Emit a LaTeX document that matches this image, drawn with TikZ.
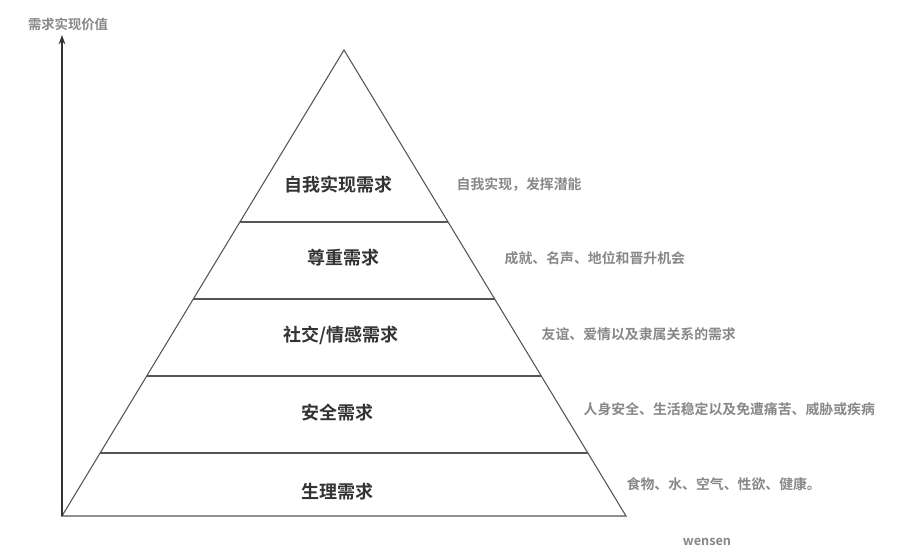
\documentclass[tikz,border=0pt]{standalone}
\usepackage{fontspec}
\setmainfont{Noto Sans CJK SC Bold}
\usetikzlibrary{arrows.meta}
\definecolor{tl}{HTML}{555555}
\definecolor{tx}{HTML}{333333}
\definecolor{gl}{HTML}{888888}
\tikzset{
 lvl/.style={font=\fontsize{13.5}{16}\selectfont, text=tx},
 note/.style={font=\fontsize{10.4}{12}\selectfont, text=gl, anchor=west},
 edge/.style={draw=tl, line width=0.8pt}
}
\begin{document}
\begin{tikzpicture}[x=0.75pt,y=-0.75pt]
\useasboundingbox (0,0) rectangle (899,556);
\coordinate (apex) at (344,50);
\coordinate (bl) at (62,516);
\coordinate (br) at (626,516);
\coordinate (top) at (62,35);
\draw[edge] (bl) -- (apex) -- (br) -- cycle;
\draw[draw=black!80, line width=1pt, -{Stealth[length=7pt,width=5pt]}] (bl) -- (top);
\foreach \y in {222,299,376,453}{
 \pgfmathsetmacro{\d}{(\y-50)*0.60515}
 \draw[edge] ({344-\d},\y) -- ({344+\d},\y);
}
\node[font=\fontsize{10}{11}\selectfont, text=gl] (ax) at (68,24) {需求实现价值};
\node[lvl] (l1) at (338,185) {自我实现需求};
\node[lvl] (l2) at (343,258) {尊重需求};
\node[lvl] (l3) at (341,335) {社交/情感需求};
\node[lvl] (l4) at (337,413) {安全需求};
\node[lvl] (l5) at (337,492) {生理需求};
\node[note] (n1) at (452,184) {自我实现，发挥潜能};
\node[note] (n2) at (500,258) {成就、名声、地位和晋升机会};
\node[note] (n3) at (537,334) {友谊、爱情以及隶属关系的需求};
\node[note] (n4) at (579,409) {人身安全、生活稳定以及免遭痛苦、威胁或疾病};
\node[note] (n5) at (622,484) {食物、水、空气、性欲、健康。};
\node[font=\fontsize{9.5}{10}\selectfont, text=gl] (w) at (707,542) {wensen};
\end{tikzpicture}
\end{document}
